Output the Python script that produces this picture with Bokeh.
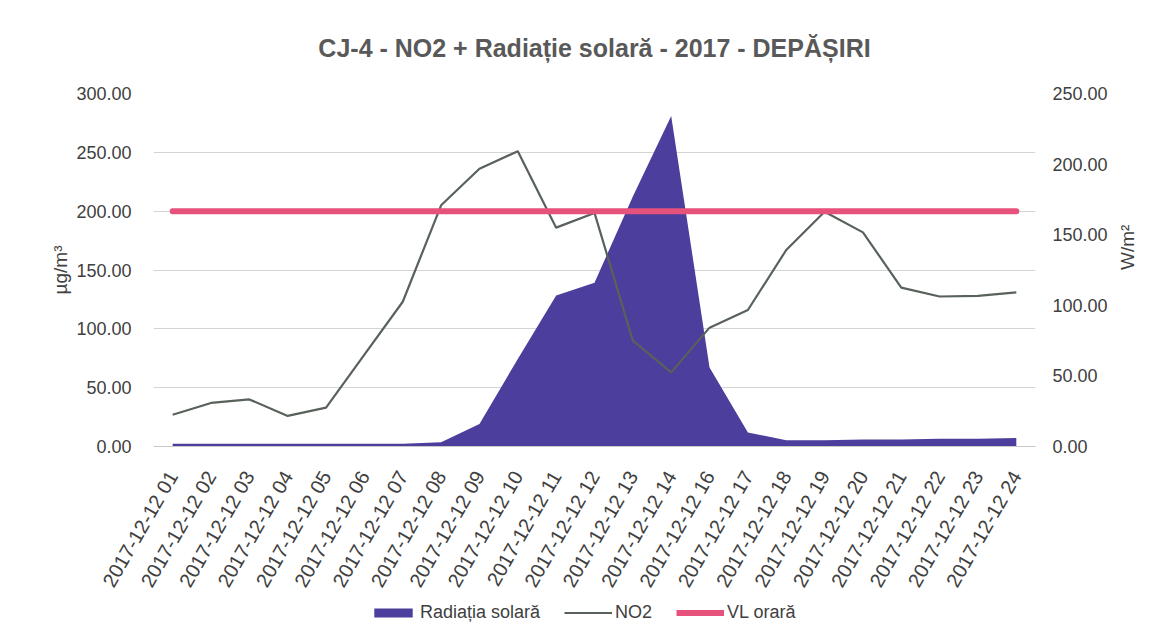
import math
from bokeh.plotting import figure
from bokeh.layouts import column
from bokeh.models import (Range1d, LinearAxis, FactorRange, FixedTicker,
                          NumeralTickFormatter, Legend, LegendItem)
from bokeh.embed import file_html
from bokeh.resources import INLINE

hours = ["01", "02", "03", "04", "05", "06", "07", "08", "09", "10", "11", "12",
         "13", "14", "16", "17", "18", "19", "20", "21", "22", "23", "24"]
categories = ["2017-12-12 " + h for h in hours]

no2 = [27, 37, 40, 26, 33, 78, 123, 205, 236, 251, 186, 198.5,
       90, 63, 101, 116, 167, 199.5, 182, 135, 127.5, 128, 131]
radiatie = [2, 2, 2, 2, 2, 2, 2, 3, 16, 62, 107, 116,
            177, 234, 56, 10, 4.5, 4.5, 5, 5, 5.5, 5.5, 6]
vl_orara = [200] * len(categories)

left_ticks = [0, 50, 100, 150, 200, 250, 300]
right_ticks = [0, 50, 100, 150, 200, 250]

FONT = "Liberation Sans"
TXT = "#404040"
C_AREA = "#4B3E9C"
C_NO2 = "#58625A"
C_VL = "#E6527C"

p = figure(x_range=FactorRange(factors=categories, range_padding=0),
           y_range=Range1d(0, 300),
           width=1152, height=600, output_backend="svg", toolbar_location=None,
           min_border_left=153, min_border_right=117, min_border_top=93,
           min_border_bottom=154)

p.title.text = "CJ-4 - NO2 + Radiație solară - 2017 - DEPĂȘIRI"
p.title.align = "center"
p.title.standoff = 63
p.title.text_font = FONT
p.title.text_font_size = "25px"
p.title.text_font_style = "bold"
p.title.text_color = "#595959"

p.extra_y_ranges = {"rad": Range1d(0, 250)}

p.outline_line_color = None
p.xgrid.grid_line_color = None
p.ygrid.grid_line_color = "#d4d4d4"
p.ygrid.ticker = FixedTicker(ticks=left_ticks)

area = p.varea(x=categories, y1=0, y2=radiatie, y_range_name="rad",
               fill_color=C_AREA, fill_alpha=1.0)
p.line(x=categories, y=no2, line_color=C_NO2, line_width=2.2)
p.line(x=categories, y=vl_orara, line_color=C_VL, line_width=6, line_cap="round")

yl = p.yaxis[0]
yl.ticker = FixedTicker(ticks=left_ticks)
yl.formatter = NumeralTickFormatter(format="0.00")
yl.axis_label = "µg/m³"

yr = LinearAxis(y_range_name="rad", ticker=FixedTicker(ticks=right_ticks),
                formatter=NumeralTickFormatter(format="0.00"), axis_label="W/m²")
p.add_layout(yr, "right")

for ax in (yl, yr):
    ax.axis_line_color = None
    ax.major_tick_line_color = None
    ax.minor_tick_line_color = None
    ax.major_label_text_font = FONT
    ax.major_label_text_font_size = "18px"
    ax.major_label_text_color = TXT
    ax.axis_label_text_font = FONT
    ax.axis_label_text_font_size = "19px"
    ax.axis_label_text_font_style = "normal"
    ax.axis_label_text_color = TXT

yl.major_label_standoff = 16
yl.axis_label_standoff = 2
yr.major_label_standoff = 11
yr.axis_label_standoff = 17
try:
    yr.axis_label_orientation = math.pi / 2
except Exception:
    pass

xa = p.xaxis[0]
xa.axis_line_color = "#c8c8c8"
xa.major_tick_line_color = None
xa.minor_tick_line_color = None
xa.major_label_orientation = math.radians(60)
xa.major_label_text_font = FONT
xa.major_label_text_font_size = "20px"
xa.major_label_text_color = TXT
xa.major_label_standoff = 20

# legend strip below the chart: same series, drawn out of view, only keyed
lg = figure(x_range=FactorRange(factors=categories, range_padding=0),
            y_range=Range1d(-20, -10), width=1152, height=28,
            output_backend="svg", toolbar_location=None,
            x_axis_location=None, y_axis_location=None, min_border=0)
lg.outline_line_color = None
lg.grid.visible = False
r_area = lg.varea(x=categories, y1=0, y2=radiatie, fill_color=C_AREA)
r_no2 = lg.line(x=categories, y=no2, line_color=C_NO2, line_width=2.2)
r_vl = lg.line(x=categories, y=vl_orara, line_color=C_VL, line_width=6)

legend = Legend(items=[LegendItem(label="Radiația solară", renderers=[r_area]),
                       LegendItem(label="NO2", renderers=[r_no2]),
                       LegendItem(label="VL orară", renderers=[r_vl])],
                orientation="horizontal", location=(216, 5),
                border_line_color=None, background_fill_alpha=0,
                label_text_font=FONT, label_text_font_size="18px",
                label_text_color=TXT, glyph_width=48, glyph_height=11,
                spacing=24, label_standoff=3, padding=0, margin=0)
lg.add_layout(legend, "center")

layout = column(p, lg, spacing=0)
open("out.html", "w").write(file_html(layout, INLINE))
